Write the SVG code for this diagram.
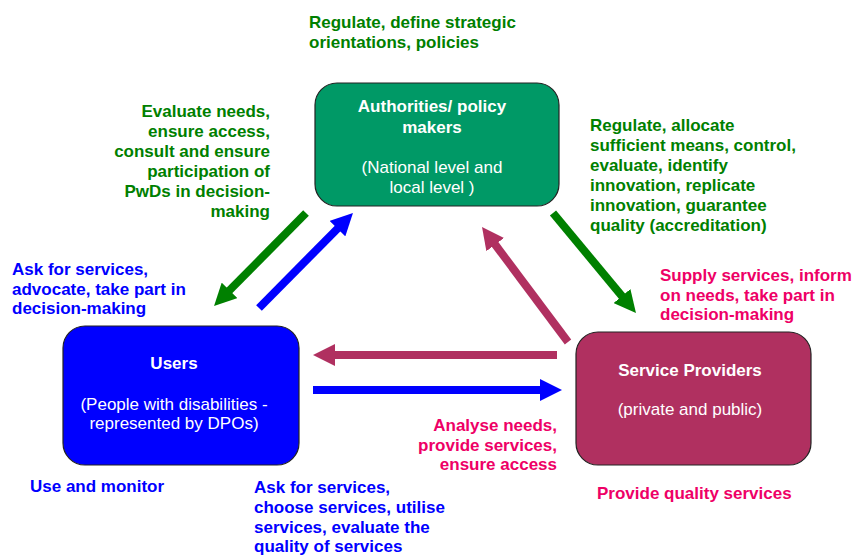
<svg xmlns="http://www.w3.org/2000/svg" width="854" height="555" viewBox="0 0 854 555">
<defs>
<style>
text{font-family:"Liberation Sans",Arial,sans-serif;font-size:17px}
.b{font-weight:bold}
.w{fill:#ffffff}
.c{text-anchor:middle}
.r{text-anchor:end}
.lg{fill:#008000;font-weight:bold}
.lb{fill:#0000ff;font-weight:bold}
.lp{fill:#ee0066;font-weight:bold}
.box{stroke:#222222;stroke-width:1.2}
.arr{stroke-width:8;fill:none}
</style>
<marker id="hg" markerUnits="userSpaceOnUse" markerWidth="22" markerHeight="22" refX="2" refY="11" orient="auto"><path d="M0,0 L22,11 L0,22 z" fill="#008000"/></marker>
<marker id="hb" markerUnits="userSpaceOnUse" markerWidth="22" markerHeight="22" refX="2" refY="11" orient="auto"><path d="M0,0 L22,11 L0,22 z" fill="#0000ff"/></marker>
<marker id="hm" markerUnits="userSpaceOnUse" markerWidth="22" markerHeight="22" refX="2" refY="11" orient="auto"><path d="M0,0 L22,11 L0,22 z" fill="#b03060"/></marker>
</defs>
<rect width="854" height="555" fill="#ffffff"/>

<g id="connectors">
<line class="arr" x1="306" y1="213" x2="228.1" y2="291.8" stroke="#008000" marker-end="url(#hg)"/>
<line class="arr" x1="259" y1="308" x2="338.9" y2="227.2" stroke="#0000ff" marker-end="url(#hb)"/>
<line class="arr" x1="568" y1="342" x2="494" y2="243" stroke="#b03060" marker-end="url(#hm)"/>
<line class="arr" x1="553" y1="213" x2="623.2" y2="297.6" stroke="#008000" marker-end="url(#hg)"/>
<line class="arr" x1="557" y1="355" x2="333" y2="355" stroke="#b03060" marker-end="url(#hm)"/>
<line class="arr" x1="313" y1="390" x2="542" y2="390" stroke="#0000ff" marker-end="url(#hb)"/>
</g>

<g id="authorities">
<rect class="box" x="315" y="83" width="244" height="123" rx="22" fill="#009966"/>
<text class="w c b" x="432" y="112">Authorities/ policy</text>
<text class="w c b" x="432" y="133">makers</text>
<text class="w c" x="432" y="173">(National level and</text>
<text class="w c" x="432" y="193">local level )</text>
</g>

<g id="users">
<rect class="box" x="63" y="326" width="236" height="139" rx="22" fill="#0000ff"/>
<text class="w c b" x="174" y="369">Users</text>
<text class="w c" x="174" y="410">(People with disabilities -</text>
<text class="w c" x="174" y="429">represented by DPOs)</text>
</g>

<g id="providers">
<rect class="box" x="576" y="332" width="235" height="133" rx="22" fill="#b03060"/>
<text class="w c b" x="690" y="376">Service Providers</text>
<text class="w c" x="690" y="415">(private and public)</text>
</g>

<g id="labels">
<text class="lg" x="309" y="28">Regulate, define strategic</text>
<text class="lg" x="309" y="48">orientations, policies</text>

<text class="lg r" x="270" y="117">Evaluate needs,</text>
<text class="lg r" x="270" y="137">ensure access,</text>
<text class="lg r" x="270" y="157">consult and ensure</text>
<text class="lg r" x="270" y="177">participation of</text>
<text class="lg r" x="270" y="197">PwDs in decision-</text>
<text class="lg r" x="270" y="217">making</text>

<text class="lg" x="590" y="131">Regulate, allocate</text>
<text class="lg" x="590" y="151">sufficient means, control,</text>
<text class="lg" x="590" y="171">evaluate, identify</text>
<text class="lg" x="590" y="191">innovation, replicate</text>
<text class="lg" x="590" y="211">innovation, guarantee</text>
<text class="lg" x="590" y="231">quality (accreditation)</text>

<text class="lp" x="660" y="281">Supply services, inform</text>
<text class="lp" x="660" y="301">on needs, take part in</text>
<text class="lp" x="660" y="320">decision-making</text>

<text class="lb" x="12" y="275">Ask for services,</text>
<text class="lb" x="12" y="295">advocate, take part in</text>
<text class="lb" x="12" y="314">decision-making</text>

<text class="lb" x="30" y="492">Use and monitor</text>

<text class="lb" x="254" y="493">Ask for services,</text>
<text class="lb" x="254" y="513">choose services, utilise</text>
<text class="lb" x="254" y="533">services, evaluate the</text>
<text class="lb" x="254" y="552">quality of services</text>

<text class="lp r" x="557" y="431">Analyse needs,</text>
<text class="lp r" x="557" y="451">provide services,</text>
<text class="lp r" x="557" y="470">ensure access</text>

<text class="lp" x="597" y="499">Provide quality services</text>
</g>
</svg>
